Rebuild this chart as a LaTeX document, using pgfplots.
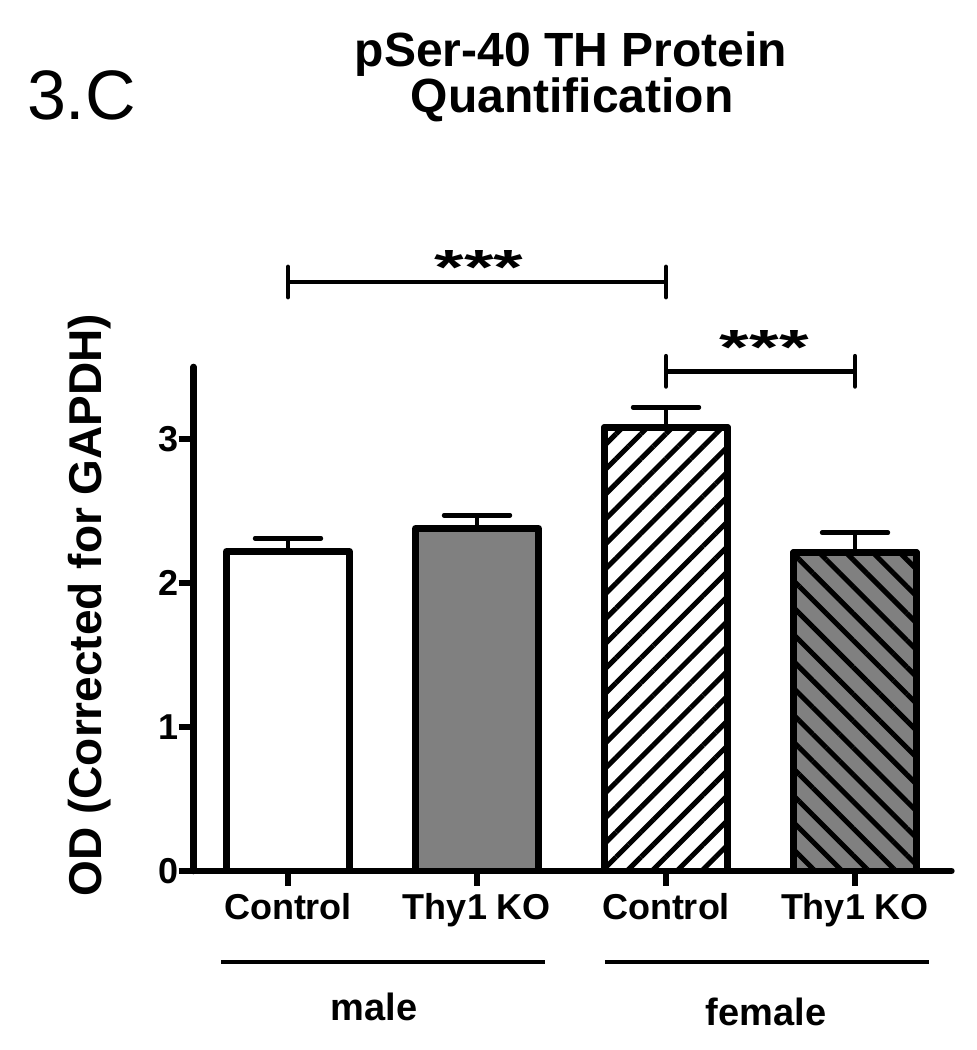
\documentclass[border=0pt]{standalone}
\usepackage{fontspec}
\setmainfont{Liberation Sans}
\usepackage{pgfplots}
\pgfplotsset{compat=1.18}
\usetikzlibrary{patterns.meta}

\definecolor{barGray}{RGB}{128,128,128}

\pgfplotsset{
  odbar/.style={
    ybar, bar width=61.5pt, bar shift=0pt, draw=black, line width=3.3pt, line join=round,
    error bars/y dir=plus, error bars/y explicit,
    error bars/error mark=|,
    error bars/error bar style={line width=2.2pt, black},
    error bars/error mark options={line width=2.2pt, mark size=16.5pt, black, line cap=round},
  },
}

\begin{document}
\begin{tikzpicture}
\path[use as bounding box] (0pt,0pt) rectangle (488pt,525pt);
\begin{axis}[
  at={(96.75pt,89.5pt)}, anchor=south west,
  scale only axis, x=94.5pt, y=72pt,
  xmin=-0.5, xmax=3.51, ymin=0, ymax=3.5,
  axis x line=bottom, axis y line=left,
  axis line style={-, line width=3.3pt, line cap=round},
  xtick={0,1,2,3}, xticklabels={Control, Thy1 KO, Control, Thy1 KO},
  ytick={0,1,2,3},
  tick align=outside, major tick length=7.5pt,
  tick style={line width=2.6pt, black},
  ticklabel style={font=\bfseries\fontsize{18}{20}\selectfont},
  yticklabel style={xshift=3.5pt},
  /pgf/number format/assume math mode=true,
  clip=false,
]
% bars: male control, male KO, female control, female KO
\addplot[odbar, fill=white] coordinates {(0,2.22) +- (0,0.09)};
\addplot[odbar, fill=barGray] coordinates {(1,2.38) +- (0,0.09)};
\addplot[odbar, fill=white,
  postaction={pattern={Lines[angle=45,distance=8.8pt,line width=2.5pt]}, pattern color=black}]
  coordinates {(2,3.08) +- (0,0.14)};
\addplot[odbar, fill=barGray,
  postaction={pattern={Lines[angle=-45,distance=9.5pt,line width=2.5pt]}, pattern color=black}]
  coordinates {(3,2.21) +- (0,0.14)};

% significance brackets
\draw[line width=2.3pt] (axis cs:0,4.09) -- (axis cs:2,4.09);
\draw[line width=2.3pt, line cap=round] (axis cs:0,3.985) -- (axis cs:0,4.195);
\draw[line width=2.3pt, line cap=round] (axis cs:2,3.985) -- (axis cs:2,4.195);
\node[anchor=base, font=\bfseries\fontsize{38}{38}\selectfont] at (axis cs:1.01,4.076) {\scalebox{1}[0.65]{***}};

\draw[line width=2.3pt] (axis cs:2,3.47) -- (axis cs:3,3.47);
\draw[line width=2.3pt, line cap=round] (axis cs:2,3.365) -- (axis cs:2,3.575);
\draw[line width=2.3pt, line cap=round] (axis cs:3,3.365) -- (axis cs:3,3.575);
\node[anchor=base, font=\bfseries\fontsize{38}{38}\selectfont] at (axis cs:2.52,3.52) {\scalebox{1}[0.65]{***}};

% group lines and labels
\draw[line width=2pt] (axis cs:-0.354,-0.632) -- (axis cs:1.36,-0.632);
\draw[line width=2pt] (axis cs:1.677,-0.632) -- (axis cs:3.392,-0.632);
\node[font=\bfseries\fontsize{19}{19}\selectfont] at (axis cs:0.455,-0.944) {male};
\node[font=\bfseries\fontsize{19}{19}\selectfont] at (axis cs:2.53,-0.979) {female};
\end{axis}

\node[anchor=base west, font=\fontsize{35}{35}\selectfont] at (10pt,465pt) {3.C};
\node[anchor=base, font=\bfseries\fontsize{24}{24}\selectfont] at (285.5pt,491.5pt) {pSer-40 TH Protein};
\node[anchor=base, font=\bfseries\fontsize{24}{24}\selectfont] at (286pt,468.5pt) {Quantification};
\node[rotate=90, font=\bfseries\fontsize{23}{23}\selectfont] at (45pt,222.5pt) {OD (Corrected for GAPDH)};
\end{tikzpicture}
\end{document}
